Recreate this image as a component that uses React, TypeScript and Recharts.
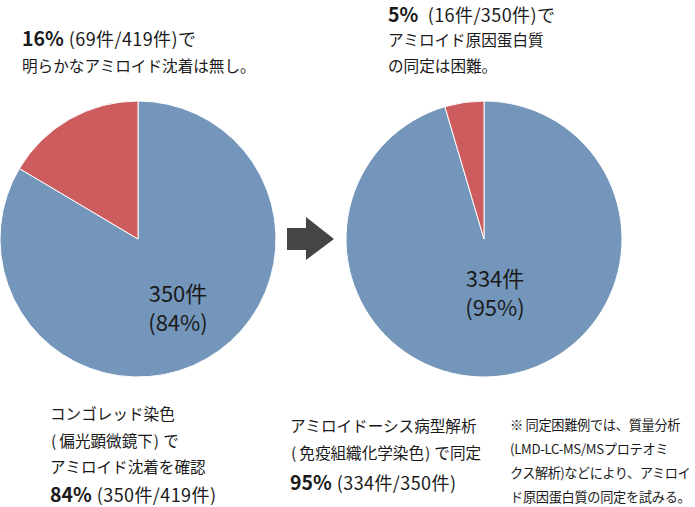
import React from "react"
import { PieChart, Pie, Cell } from "recharts"

// 左: コンゴレッド染色の結果 (419件)
const beforeNames = ["沈着あり", "沈着なし"]
const beforeValues = [350, 69]
// 右: 病型解析の結果 (350件)
const afterNames = ["同定", "同定困難"]
const afterValues = [334, 16]

const COLORS = ["#7396BA", "#CD5C5E"]
const FONT = '"Noto Sans CJK JP", "Noto Sans", sans-serif'

const beforeData = beforeNames.map((name, i) => ({ name, value: beforeValues[i] }))
const afterData = afterNames.map((name, i) => ({ name, value: afterValues[i] }))

type LineProps = {
  x: number
  y: number
  size: number
  children: React.ReactNode
  center?: boolean
  w?: number
  ls?: number
}

// 1行分のテキスト (y は行の中心)
const Line = ({ x, y, size, children, center, w = 300, ls = 0 }: LineProps) => {
  const h = 26
  return (
    <div
      style={{
        position: "absolute",
        left: center ? x - w / 2 : x,
        top: y - h / 2,
        width: w,
        height: h,
        lineHeight: `${h}px`,
        fontSize: size,
        letterSpacing: ls,
        textAlign: center ? "center" : "left",
        whiteSpace: "nowrap",
        color: "#1a1a1a",
      }}
    >
      {children}
    </div>
  )
}

const Big = ({ children }: { children: React.ReactNode }) => (
  <span style={{ fontWeight: 700, fontSize: 19.5, letterSpacing: 0, marginRight: 5 }}>{children}</span>
)

// 括弧の後ろ/前に少し余白
const Open = () => <span style={{ marginRight: 3 }}>(</span>
const Close = () => <span style={{ marginLeft: 1, marginRight: 4 }}>)</span>

export default function App() {
  return (
    <div
      style={{
        position: "absolute",
        left: 0,
        top: 0,
        width: 695,
        height: 507,
        background: "#fff",
        fontFamily: FONT,
        overflow: "hidden",
      }}
    >
      <PieChart width={695} height={507} margin={{ top: 0, right: 0, bottom: 0, left: 0 }}>
        <Pie
          data={beforeData}
          dataKey="value"
          cx={138}
          cy={239}
          outerRadius={138}
          startAngle={90}
          endAngle={-270}
          stroke="#fff"
          strokeWidth={1}
          isAnimationActive={false}
        >
          {beforeData.map((d, i) => (
            <Cell key={d.name} fill={COLORS[i]} />
          ))}
        </Pie>
        <Pie
          data={afterData}
          dataKey="value"
          cx={484}
          cy={239}
          outerRadius={138}
          startAngle={90}
          endAngle={-270}
          stroke="#fff"
          strokeWidth={1}
          isAnimationActive={false}
        >
          {afterData.map((d, i) => (
            <Cell key={d.name} fill={COLORS[i]} />
          ))}
        </Pie>
        <polygon points="287,228 306,228 306,217 334,239 306,260 306,250 287,250" fill="#454545" />
      </PieChart>

      {/* 上の説明 */}
      <Line x={22} y={38} size={18} ls={0.4}>
        <Big>16%</Big>(69件/419件)で
      </Line>
      <Line x={22} y={65} size={15.6}>
        明らかなアミロイド沈着は無し。
      </Line>

      <Line x={388} y={14} size={18} ls={0.4}>
        <Big>5%</Big> (16件/350件)で
      </Line>
      <Line x={388} y={39} size={15.6}>
        アミロイド原因蛋白質
      </Line>
      <Line x={388} y={65} size={15.6}>
        の同定は困難。
      </Line>

      {/* 円グラフ内ラベル */}
      <Line x={178} y={292} size={22} center w={120}>
        {beforeValues[0]}件
      </Line>
      <Line x={178} y={321} size={22} center w={120}>
        (84%)
      </Line>
      <Line x={495} y={277} size={22} center w={120}>
        {afterValues[0]}件
      </Line>
      <Line x={495} y={306} size={22} center w={120}>
        (95%)
      </Line>

      {/* 下の説明 */}
      <Line x={50} y={413} size={15.6}>
        コンゴレッド染色
      </Line>
      <Line x={51} y={440} size={15.6}>
        <Open />偏光顕微鏡下<Close />で
      </Line>
      <Line x={50} y={466} size={15.6}>
        アミロイド沈着を確認
      </Line>
      <Line x={50} y={494} size={18} ls={0.4}>
        <Big>84%</Big>(350件/419件)
      </Line>

      <Line x={290} y={425} size={15.6}>
        アミロイドーシス病型解析
      </Line>
      <Line x={291} y={452} size={15.6}>
        <Open />免疫組織化学染色<Close />で同定
      </Line>
      <Line x={290} y={482} size={18} ls={0.4}>
        <Big>95%</Big>(334件/350件)
      </Line>

      <Line x={510} y={425} size={13.2} ls={-0.3}>
        ※ 同定困難例では、質量分析
      </Line>
      <Line x={510} y={449} size={13.2} ls={-0.3}>
        (LMD-LC-MS/MSプロテオミ
      </Line>
      <Line x={510} y={473} size={13.2} ls={-0.5}>
        クス解析)などにより、アミロイ
      </Line>
      <Line x={510} y={497} size={13.2} ls={-0.3}>
        ド原因蛋白質の同定を試みる。
      </Line>
    </div>
  )
}
